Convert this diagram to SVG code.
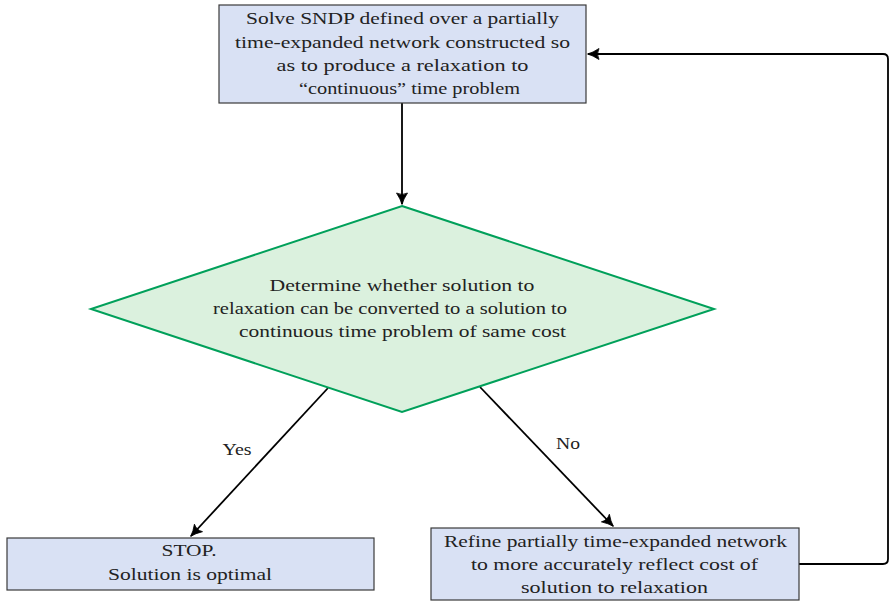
<svg xmlns="http://www.w3.org/2000/svg" width="889" height="601" viewBox="0 0 889 601">
  <defs>
    <style>
      .box { fill: #d9e1f4; stroke: #3a3a3a; stroke-width: 1.2; }
      .decision { fill: #dbf1de; stroke: #00a05a; stroke-width: 2; }
      .label { font-family: "Liberation Serif", "Times New Roman", serif; font-size: 17px; fill: #222; text-anchor: middle; }
      .edge { fill: none; stroke: #000; stroke-width: 1.8; }
    </style>
    <marker id="arrow" viewBox="0 0 14 14" refX="12" refY="7" markerWidth="14" markerHeight="14" markerUnits="userSpaceOnUse" orient="auto">
      <path d="M1,1.5 Q7,5.5 12.5,7 Q7,8.5 1,12.5 Q4,7 1,1.5 Z" fill="#000" stroke="#000" stroke-width="0.8" stroke-linejoin="round"/>
    </marker>
  </defs>

  <!-- connectors -->
  <g id="connectors">
    <path class="edge" d="M402,103 L402,204" marker-end="url(#arrow)"/>
    <path class="edge" d="M328,388 L191,536" marker-end="url(#arrow)"/>
    <path class="edge" d="M480,387 L613,526" marker-end="url(#arrow)"/>
    <path class="edge" d="M799,564 L883,564 Q888,564 888,559 L888,59 Q888,54 883,54 L588,54" marker-end="url(#arrow)"/>
    <text class="label" x="237" y="455" textLength="29" lengthAdjust="spacingAndGlyphs">Yes</text>
    <text class="label" x="568" y="449" textLength="24" lengthAdjust="spacingAndGlyphs">No</text>
  </g>

  <!-- solve the relaxation -->
  <g id="solve">
    <rect class="box" x="219" y="5" width="367" height="98"/>
    <text class="label" x="402.5" y="24" textLength="313" lengthAdjust="spacingAndGlyphs">Solve SNDP defined over a partially</text>
    <text class="label" x="402.5" y="48" textLength="335" lengthAdjust="spacingAndGlyphs">time-expanded network constructed so</text>
    <text class="label" x="402.5" y="71" textLength="252" lengthAdjust="spacingAndGlyphs">as to produce a relaxation to</text>
    <text class="label" x="409.5" y="94" textLength="221" lengthAdjust="spacingAndGlyphs">“continuous” time problem</text>
  </g>

  <!-- decision -->
  <g id="determine">
    <polygon class="decision" points="402,206 714,309 402,412 91,309"/>
    <text class="label" x="402" y="291" textLength="265" lengthAdjust="spacingAndGlyphs">Determine whether solution to</text>
    <text class="label" x="390" y="314" textLength="354" lengthAdjust="spacingAndGlyphs">relaxation can be converted to a solution to</text>
    <text class="label" x="402.5" y="337" textLength="327" lengthAdjust="spacingAndGlyphs">continuous time problem of same cost</text>
  </g>

  <!-- stop -->
  <g id="stop">
    <rect class="box" x="7" y="538" width="367" height="52"/>
    <text class="label" x="189" y="556" textLength="55" lengthAdjust="spacingAndGlyphs">STOP.</text>
    <text class="label" x="190" y="580" textLength="164" lengthAdjust="spacingAndGlyphs">Solution is optimal</text>
  </g>

  <!-- refine the network -->
  <g id="refine">
    <rect class="box" x="431" y="528" width="368" height="72"/>
    <text class="label" x="615.5" y="547" textLength="343" lengthAdjust="spacingAndGlyphs">Refine partially time-expanded network</text>
    <text class="label" x="614.5" y="570" textLength="287" lengthAdjust="spacingAndGlyphs">to more accurately reflect cost of</text>
    <text class="label" x="614.5" y="593" textLength="187" lengthAdjust="spacingAndGlyphs">solution to relaxation</text>
  </g>
</svg>
